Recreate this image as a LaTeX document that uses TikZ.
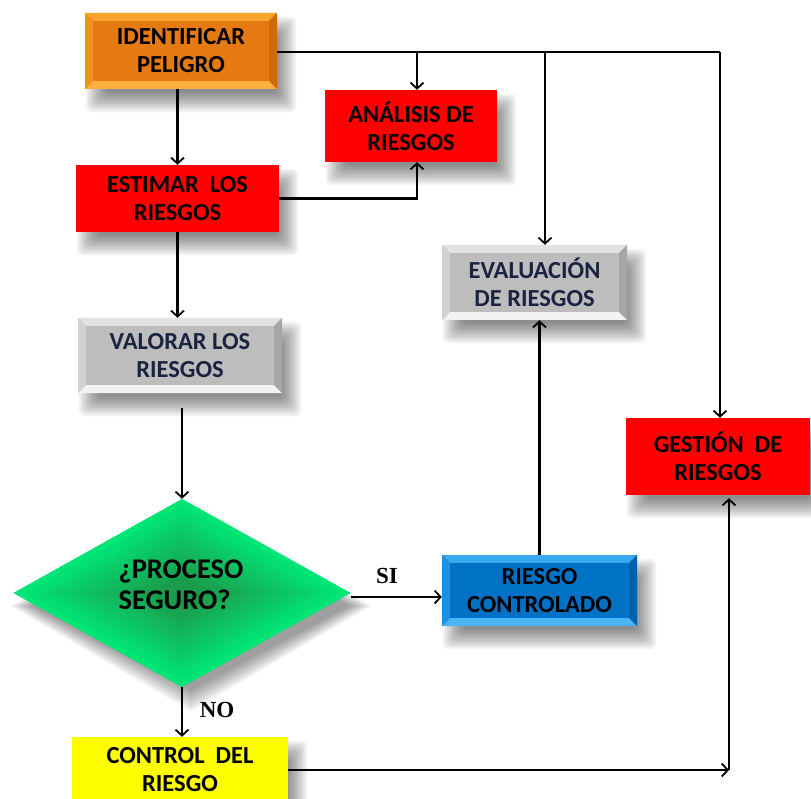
\documentclass[tikz,border=0pt]{standalone}
\usepackage{fontspec}
\setmainfont{Carlito}
\newfontfamily\timesfont{Liberation Serif}
\usetikzlibrary{arrows.meta,shapes.geometric,calc}
\definecolor{orC}{HTML}{E57A12}
\definecolor{orT}{HTML}{F9A42E}
\definecolor{orL}{HTML}{F0921E}
\definecolor{orB}{HTML}{FDB03E}
\definecolor{orR}{HTML}{CF6A08}
\definecolor{grC}{HTML}{BDBDBD}
\definecolor{grT}{HTML}{E2E2E2}
\definecolor{grL}{HTML}{D2D2D2}
\definecolor{grB}{HTML}{F2F2F2}
\definecolor{grR}{HTML}{A6A6A6}
\definecolor{blC}{HTML}{0072C6}
\definecolor{blT}{HTML}{3AA8F0}
\definecolor{blL}{HTML}{1E90E0}
\definecolor{blB}{HTML}{4AB4F4}
\definecolor{blR}{HTML}{0060A8}
\definecolor{redbox}{HTML}{FF0000}
\definecolor{yelbox}{HTML}{FFFF00}
\definecolor{gOut}{HTML}{00E676}
\definecolor{gIn}{HTML}{1C9A4C}
\definecolor{navytext}{HTML}{1A2340}
\pgfdeclarelayer{shadowlayer}
\pgfsetlayers{shadowlayer,main}
\newcommand\softshadow[1]{%
  \begin{pgfonlayer}{shadowlayer}
  \foreach \r in {-10,-8,...,10}{
    \fill[black, opacity=0.05, rounded corners=6pt]
      ($(#1.north west)+(11,14)+(-\r,-\r)$) rectangle ($(#1.south east)+(9,13)+(\r,\r)$);
  }
  \end{pgfonlayer}}
\newcommand\softdiashadow[1]{%
  \begin{pgfonlayer}{shadowlayer}
  \foreach \r in {-10,-7,...,11}{
    \fill[black, opacity=0.055]
      ($(#1.north)+(9,13)+(0,-\r)$) -- ($(#1.east)+(9,13)+(\r,0)$) -- ($(#1.south)+(9,13)+(0,\r)$) -- ($(#1.west)+(9,13)+(-\r,0)$) -- cycle;
  }
  \end{pgfonlayer}}
\tikzset{
  boxbase/.style={rectangle, inner sep=0pt, align=center,
    font=\fontsize{24.5}{28}\selectfont\bfseries},
  bevel/.style n args={5}{path picture={
    \fill[#2] (path picture bounding box.north west) -- (path picture bounding box.north east)
      -- ([shift={(-8pt,-8pt)}]path picture bounding box.north east) -- ([shift={(8pt,-8pt)}]path picture bounding box.north west) -- cycle;
    \fill[#4] (path picture bounding box.south west) -- (path picture bounding box.south east)
      -- ([shift={(-8pt,8pt)}]path picture bounding box.south east) -- ([shift={(8pt,8pt)}]path picture bounding box.south west) -- cycle;
    \fill[#3] (path picture bounding box.north west) -- (path picture bounding box.south west)
      -- ([shift={(8pt,8pt)}]path picture bounding box.south west) -- ([shift={(8pt,-8pt)}]path picture bounding box.north west) -- cycle;
    \fill[#5] (path picture bounding box.north east) -- (path picture bounding box.south east)
      -- ([shift={(-8pt,8pt)}]path picture bounding box.south east) -- ([shift={(-8pt,-8pt)}]path picture bounding box.north east) -- cycle;
    \fill[#1] ([shift={(8pt,-8pt)}]path picture bounding box.north west) rectangle ([shift={(-8pt,8pt)}]path picture bounding box.south east);
  }},
  conn/.style={line width=2.2pt, -{Straight Barb[length=6pt,width=13pt,line width=1.8pt]}},
  plain/.style={line width=2.2pt},
  yesno/.style={font=\timesfont\bfseries\fontsize{23}{24}\selectfont, inner sep=0pt}
}
\begin{document}
\begin{tikzpicture}[x=1pt,y=-1pt]
\begin{pgfonlayer}{shadowlayer}
\fill[white] (0,0) rectangle (811,799);
\end{pgfonlayer}
\clip (0,0) rectangle (811,799);

% nodes
\node[boxbase, fill=orC, bevel={orC}{orT}{orL}{orB}{orR}, minimum width=192pt, minimum height=76pt] (ident) at (181,51) {IDENTIFICAR\\PELIGRO};
\node[boxbase, fill=redbox, minimum width=172pt, minimum height=72pt] (analisis) at (411,126) {ANÁLISIS DE\\RIESGOS};
\node[boxbase, fill=redbox, minimum width=203pt, minimum height=67pt] (estimar) at (177.5,198.5) {ESTIMAR\ \ LOS\\RIESGOS};
\node[boxbase, fill=grC, bevel={grC}{grT}{grL}{grB}{grR}, text=navytext, minimum width=204pt, minimum height=75pt] (valorar) at (180,355.5) {VALORAR LOS\\RIESGOS};
\node[boxbase, fill=grC, bevel={grC}{grT}{grL}{grB}{grR}, text=navytext, minimum width=185pt, minimum height=75pt] (eval) at (534.5,282.5) {EVALUACIÓN\\DE RIESGOS};
\node[boxbase, fill=redbox, minimum width=184pt, minimum height=77pt] (gestion) at (718,456.5) {GESTIÓN\ \ DE\\RIESGOS};
\node[boxbase, fill=blC, bevel={blC}{blT}{blL}{blB}{blR}, minimum width=195pt, minimum height=71pt] (riesgo) at (539.5,590.5) {RIESGO\\CONTROLADO};
\node[boxbase, fill=yelbox, minimum width=216pt, minimum height=66pt] (control) at (180,770) {CONTROL\ \ DEL\\RIESGO};

\node[diamond, inner sep=0pt, shape aspect=1.79, minimum width=337pt, minimum height=188pt, fill=gOut,
  path picture={
    \begin{scope}[shift={(path picture bounding box.center)}]
      \foreach \k in {0,...,13}{
        \pgfmathsetmacro\s{1-\k*0.062}
        \pgfmathsetmacro\p{100-\k*7.5}
        \fill[gOut!\p!gIn] (168.5*\s,0) -- (0,94*\s) -- (-168.5*\s,0) -- (0,-94*\s) -- cycle;
      }
    \end{scope}
  }] (dia) at (182,593) {};
\node[align=left, inner sep=0pt, font=\fontsize{28.5}{31}\selectfont\bfseries] (q) at (181,585) {¿PROCESO\\SEGURO?};

\softshadow{ident}
\softshadow{analisis}
\softshadow{estimar}
\softshadow{valorar}
\softshadow{eval}
\softshadow{gestion}
\softshadow{riesgo}
\softshadow{control}
\softdiashadow{dia}

% labels
\node[yesno] (si) at (387,576) {SI};
\node[yesno] (no) at (217,710) {NO};

% connectors
\draw[conn] (ident.south -| estimar.north) -- (estimar.north);
\coordinate (topR) at ($(ident.east -| gestion.north)+(2,1)$);
\coordinate (jA) at ($(ident.east -| analisis.north)+(6,1)$);
\coordinate (jE) at ($(ident.east -| eval.north)+(10.5,1)$);
\draw[plain] ($(ident.east)+(0,1)$) -- (topR);
\draw[conn] (topR) -- (topR |- gestion.north);
\draw[conn] (jA) -- (jA |- analisis.north);
\draw[conn] (jE) -- (jE |- eval.north);
\draw[conn] (estimar.east) -| ($(analisis.south)+(6,0)$);
\draw[conn] (estimar.south) -- (estimar.south |- valorar.north);
\coordinate (vs) at ($(valorar.south)+(0,15)$);
\draw[conn] (vs -| dia.north) -- (dia.north);
\draw[conn] ($(dia.east)+(0,4)$) -- ($(dia.east -| riesgo.west)+(0,4)$);
\draw[conn] (riesgo.north) -- (riesgo.north |- eval.south);
\draw[conn] (dia.south) -- (dia.south |- control.north);
\coordinate (cr) at ($(control.east -| gestion.south)+(11,0)$);
\draw[conn] (control.east) -- (cr);
\draw[conn] (cr) -- ($(cr |- gestion.south)+(0,3)$);
\end{tikzpicture}
\end{document}
